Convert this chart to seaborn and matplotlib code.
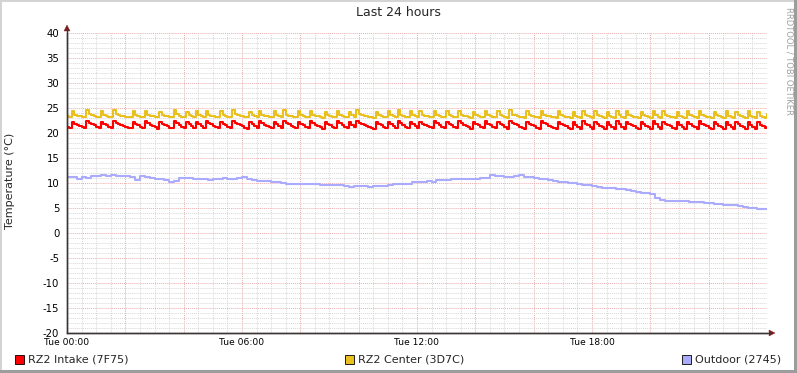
import numpy as np
import pandas as pd
import matplotlib
matplotlib.use("Agg")
import matplotlib.pyplot as plt
import seaborn as sns
from matplotlib.ticker import MultipleLocator, FixedLocator
from matplotlib.patches import Rectangle, Polygon
from matplotlib.lines import Line2D

# ---------------- data ----------------
series_names = ["RZ2 Intake (7F75)", "RZ2 Center (3D7C)", "Outdoor (2745)"]
series_colors = ["#FF0000", "#EAC01E", "#AAAAFF"]

# 5-minute samples, Tue 00:00 .. Tue 24:00
intake_vals = [
    21.3, 21.0,
    22.2, 21.9, 21.7, 21.5, 21.2, 21.0,
    22.5, 22.1, 21.8, 21.6, 21.3, 21.0,
    22.2, 21.9, 21.6, 21.3, 21.0,
    22.4, 22.0, 21.8, 21.6, 21.5, 21.3, 21.1, 21.0,
    22.3, 21.9, 21.7, 21.3, 21.0,
    22.4, 22.0, 21.7, 21.5, 21.2, 20.9,
    22.2, 21.9, 21.7, 21.4, 21.1, 21.0,
    22.5, 22.0, 21.7, 21.3, 21.0,
    22.2, 21.8, 21.4, 21.0,
    22.3, 21.8, 21.4, 21.0,
    22.4, 22.0, 21.8, 21.5, 21.2, 21.0,
    22.3, 21.9, 21.6, 21.3, 21.0,
    22.5, 22.1, 21.8, 21.6, 21.4, 21.1, 20.9,
    22.2, 21.8, 21.4, 21.0,
    22.4, 22.0, 21.7, 21.5, 21.2, 21.0,
    22.3, 21.8, 21.4, 21.0,
    22.5, 22.0, 21.8, 21.5, 21.2, 21.0,
    22.3, 21.9, 21.6, 21.3, 21.0,
    22.4, 22.0, 21.7, 21.5, 21.2, 20.9,
    22.2, 21.9, 21.6, 21.3, 21.0,
    22.4, 22.0, 21.7, 21.3, 21.0,
    22.3, 21.7, 21.2,
    22.5, 22.0, 21.8, 21.6, 21.4, 21.2, 21.0, 20.9,
    22.2, 21.9, 21.6, 21.3, 21.0,
    22.3, 21.8, 21.4, 21.0,
    22.5, 22.0, 21.7, 21.3, 21.0,
    22.3, 21.8, 21.4, 21.0,
    22.3, 21.9, 21.7, 21.5, 21.2, 21.0,
    22.4, 22.0, 21.6, 21.3, 21.0,
    22.3, 21.9, 21.6, 21.3, 21.0,
    22.4, 22.0, 21.7, 21.5, 21.2, 20.9,
    22.2, 21.9, 21.6, 21.3, 21.0,
    22.4, 21.9, 21.6, 21.3, 21.0,
    22.3, 21.9, 21.6, 21.2, 20.9,
    22.5, 22.0, 21.8, 21.6, 21.3, 21.1, 20.9,
    22.3, 21.9, 21.7, 21.4, 21.1, 20.9,
    22.4, 22.0, 21.8, 21.5, 21.3, 21.0, 20.9,
    22.3, 21.9, 21.6, 21.4, 21.1, 20.9,
    22.2, 21.7, 21.3, 20.9,
    22.4, 21.9, 21.6, 21.2, 20.9,
    22.3, 21.8, 21.5, 21.2, 20.9,
    22.2, 21.7, 21.3, 20.9,
    22.4, 21.8, 21.3, 20.9,
    22.3, 21.9, 21.6, 21.4, 21.1, 20.8,
    22.2, 21.8, 21.5, 21.2, 20.9,
    22.4, 21.8, 21.3, 20.9,
    22.3, 21.9, 21.6, 21.4, 21.1, 20.8,
    22.2, 21.7, 21.3, 20.9,
    22.3, 21.8, 21.5, 21.2, 20.9,
    22.4, 21.9, 21.6, 21.4, 21.1, 20.8,
    22.2, 21.8, 21.5, 21.2, 20.9,
    22.3, 21.7, 21.3, 20.9,
    22.2, 21.8, 21.5, 21.2, 20.8,
    22.3, 21.7, 21.3, 20.9,
    22.2, 21.7, 21.4, 21.1, 21.3,
]

center_vals = [
    23.4, 23.3,
    24.5, 23.7, 23.5, 23.4, 23.3, 23.2,
    24.7, 23.8, 23.6, 23.4, 23.3, 23.2,
    24.4, 23.7, 23.5, 23.3, 23.2,
    24.6, 23.8, 23.6, 23.5, 23.4, 23.3, 23.3, 23.2,
    24.4, 23.7, 23.5, 23.3, 23.2,
    24.5, 23.7, 23.5, 23.4, 23.3, 23.2,
    24.3, 23.7, 23.5, 23.4, 23.3, 23.2,
    24.6, 23.8, 23.5, 23.3, 23.2,
    24.3, 23.6, 23.4, 23.2,
    24.4, 23.6, 23.4, 23.2,
    24.5, 23.7, 23.5, 23.4, 23.3, 23.2,
    24.4, 23.7, 23.5, 23.3, 23.2,
    24.7, 23.8, 23.6, 23.5, 23.4, 23.3, 23.2,
    24.3, 23.6, 23.4, 23.2,
    24.5, 23.7, 23.5, 23.4, 23.3, 23.2,
    24.4, 23.6, 23.4, 23.2,
    24.6, 23.7, 23.5, 23.4, 23.3, 23.2,
    24.4, 23.7, 23.5, 23.3, 23.2,
    24.5, 23.7, 23.5, 23.4, 23.3, 23.1,
    24.3, 23.7, 23.5, 23.3, 23.2,
    24.5, 23.7, 23.5, 23.3, 23.2,
    24.3, 23.6, 23.3,
    24.7, 23.8, 23.6, 23.5, 23.4, 23.3, 23.2, 23.1,
    24.3, 23.7, 23.5, 23.3, 23.2,
    24.4, 23.6, 23.4, 23.2,
    24.6, 23.7, 23.5, 23.3, 23.2,
    24.4, 23.6, 23.4, 23.2,
    24.4, 23.7, 23.5, 23.4, 23.3, 23.2,
    24.5, 23.7, 23.5, 23.3, 23.2,
    24.4, 23.7, 23.5, 23.3, 23.2,
    24.5, 23.7, 23.5, 23.4, 23.3, 23.1,
    24.3, 23.7, 23.5, 23.3, 23.2,
    24.5, 23.7, 23.5, 23.3, 23.2,
    24.4, 23.6, 23.4, 23.3, 23.1,
    24.6, 23.7, 23.6, 23.5, 23.3, 23.2, 23.1,
    24.4, 23.7, 23.5, 23.3, 23.2, 23.1,
    24.5, 23.7, 23.5, 23.4, 23.3, 23.2, 23.1,
    24.4, 23.6, 23.4, 23.3, 23.2, 23.1,
    24.2, 23.5, 23.3, 23.1,
    24.5, 23.6, 23.4, 23.2, 23.1,
    24.4, 23.6, 23.4, 23.2, 23.1,
    24.2, 23.5, 23.3, 23.1,
    24.5, 23.6, 23.3, 23.1,
    24.4, 23.6, 23.4, 23.3, 23.2, 23.0,
    24.3, 23.6, 23.4, 23.2, 23.0,
    24.5, 23.6, 23.3, 23.1,
    24.4, 23.6, 23.4, 23.3, 23.2, 23.0,
    24.2, 23.5, 23.3, 23.1,
    24.4, 23.6, 23.4, 23.2, 23.0,
    24.5, 23.6, 23.4, 23.3, 23.2, 23.0,
    24.3, 23.6, 23.4, 23.2, 23.0,
    24.4, 23.5, 23.3, 23.1,
    24.3, 23.6, 23.4, 23.2, 23.0,
    24.4, 23.5, 23.3, 23.0,
    24.3, 23.5, 23.3, 23.1, 23.8,
]

# 10-minute samples, Tue 00:00 .. Tue 24:00
outdoor_vals = [
    11.2, 11.3, 10.9, 11.3, 11.0, 11.4, 11.5, 11.7, 11.4, 11.6,
    11.4, 11.5, 11.4, 11.3, 10.7, 11.4, 11.2, 11.0, 10.9, 10.8,
    10.7, 10.3, 10.5, 11.0, 11.1, 11.0, 10.9, 10.9, 10.8, 10.7,
    10.8, 10.9, 11.0, 10.9, 10.8, 11.0, 11.3, 10.8, 10.6, 10.5,
    10.5, 10.4, 10.3, 10.2, 10.0, 9.9, 9.9, 9.8, 9.8, 9.9,
    9.8, 9.8, 9.7, 9.7, 9.7, 9.6, 9.6, 9.5, 9.3, 9.4,
    9.4, 9.5, 9.3, 9.4, 9.4, 9.5, 9.6, 9.8, 9.8, 9.9,
    9.9, 10.3, 10.2, 10.2, 10.4, 10.3, 10.6, 10.7, 10.7, 10.9,
    10.8, 10.9, 10.8, 10.9, 10.9, 11.0, 11.0, 11.6, 11.5, 11.4,
    11.3, 11.3, 11.5, 11.6, 11.3, 11.2, 11.1, 10.9, 10.8, 10.6,
    10.5, 10.3, 10.2, 10.1, 10.0, 9.8, 9.7, 9.6, 9.5, 9.3,
    9.1, 9.0, 9.0, 8.9, 8.8, 8.6, 8.4, 8.2, 8.1, 8.0,
    7.9, 7.1, 6.7, 6.5, 6.5, 6.4, 6.4, 6.4, 6.3, 6.3,
    6.2, 6.1, 6.0, 5.9, 5.8, 5.7, 5.7, 5.6, 5.5, 5.3,
    5.1, 5.0, 4.9, 4.9, 4.9,
]

x_tick_hours = [0, 6, 12, 18]
x_tick_labels = ["Tue 00:00", "Tue 06:00", "Tue 12:00", "Tue 18:00"]
y_ticks = [-20, -15, -10, -5, 0, 5, 10, 15, 20, 25, 30, 35, 40]

# ---------------- figure ----------------
sns.set_style("white")
plt.rcParams["font.family"] = ["DejaVu Sans"]

W, H = 797, 373
fig = plt.figure(figsize=(W / 100, H / 100), dpi=100)
fig.patch.set_facecolor("white")

def fx(px):
    return px / W

def fy(py):
    return 1 - py / H

L, R, T, B = 67, 767, 33, 333
ax = fig.add_axes([fx(L), fy(B), (R - L) / W, (B - T) / H])
ax.set_facecolor("white")

frames = []
for name, vals in zip(series_names, [intake_vals, center_vals, outdoor_vals]):
    hrs = np.linspace(0, 24, len(vals))
    frames.append(pd.DataFrame({"hour": hrs, "temp": vals, "series": name}))
df = pd.concat(frames, ignore_index=True)

for name, col in zip(series_names, series_colors):
    sub = df[df["series"] == name]
    sns.lineplot(data=sub, x="hour", y="temp", ax=ax, color=col,
                 linewidth=1.5, drawstyle="steps-post", legend=False,
                 zorder=3)

ax.set_xlim(0, 24)
ax.set_ylim(-20, 40)
ax.set_xlabel("")
ax.set_ylabel("")

# grids
ax.xaxis.set_minor_locator(MultipleLocator(0.5))
ax.yaxis.set_minor_locator(MultipleLocator(1))
ax.grid(which="minor", color="#d8d8d8", linestyle=(0, (1, 1)), linewidth=0.7, zorder=0)
ax.grid(which="major", color="#eaaeae", linestyle=(0, (1, 1)), linewidth=0.7, zorder=1)

xt = list(range(0, 25, 2))
ax.set_xticks(xt)
ax.set_xticklabels([x_tick_labels[x_tick_hours.index(h)] if h in x_tick_hours else "" for h in xt])
ax.set_yticks(y_ticks)
ax.set_yticklabels([str(v) for v in y_ticks])
ax.tick_params(axis="x", which="major", length=2, width=0.7, color="#d08080",
               labelsize=6.6, pad=1.5, labelcolor="black")
ax.tick_params(axis="y", which="major", length=2, width=0.7, color="#d08080",
               labelsize=7.3, pad=3.5, labelcolor="black")
ax.tick_params(which="minor", length=0)

for s in ["top", "right"]:
    ax.spines[s].set_visible(False)
for s in ["left", "bottom"]:
    ax.spines[s].set_color("#3a3434")
    ax.spines[s].set_linewidth(1.0)
    ax.spines[s].set_zorder(4)

# axis extensions and arrows
axis_col = "#3a3434"
arrow_col = "#7a1e1e"
fig.add_artist(Line2D([fx(L), fx(L)], [fy(B), fy(29)], color=axis_col, lw=1.0))
fig.add_artist(Line2D([fx(L), fx(771)], [fy(B), fy(B)], color=axis_col, lw=1.0))
fig.add_artist(Polygon([[fx(L - 3), fy(31)], [fx(L + 3), fy(31)], [fx(L), fy(25)]],
                       closed=True, facecolor=arrow_col, edgecolor=arrow_col, lw=0.3))
fig.add_artist(Polygon([[fx(769), fy(B - 3)], [fx(769), fy(B + 3)], [fx(775), fy(B)]],
                       closed=True, facecolor=arrow_col, edgecolor=arrow_col, lw=0.3))

# texts
fig.text(fx(398), fy(13), "Last 24 hours", ha="center", va="center", fontsize=9)
fig.text(fx(10), fy(181), "Temperature (°C)", ha="center", va="center",
         rotation=90, fontsize=8)
fig.text(fx(789), fy(61), "RRDTOOL / TOBI OETIKER", ha="center", va="center",
         rotation=270, fontsize=6, color="#a0a0a0")

# legend
legend_x = [15, 345, 682]
for px, name, col in zip(legend_x, series_names, series_colors):
    fig.add_artist(Rectangle((fx(px), fy(364)), 9 / W, 9 / H, transform=fig.transFigure,
                             facecolor=col, edgecolor="black", lw=0.6))
    fig.text(fx(px + 13), fy(359), name, ha="left", va="center", fontsize=8)

# outer 3d frame
fig.add_artist(Rectangle((0, fy(2)), 1, 2 / H, transform=fig.transFigure,
                         facecolor="#d4d4d4", edgecolor="none"))
fig.add_artist(Rectangle((0, 0), 2 / W, 1, transform=fig.transFigure,
                         facecolor="#d4d4d4", edgecolor="none"))
fig.add_artist(Rectangle((fx(794), 0), 3 / W, 1, transform=fig.transFigure,
                         facecolor="#9c9c9c", edgecolor="none"))
fig.add_artist(Rectangle((0, 0), 1, 3 / H, transform=fig.transFigure,
                         facecolor="#9c9c9c", edgecolor="none"))

fig.savefig("out.png", dpi=100, facecolor="white")
